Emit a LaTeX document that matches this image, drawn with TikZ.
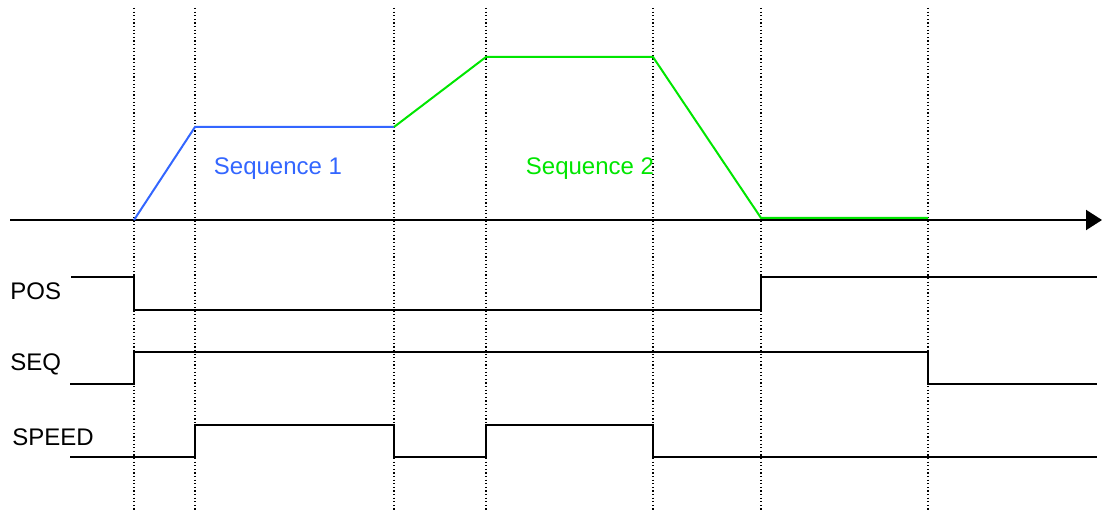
\documentclass[tikz,border=0pt]{standalone}
\usepackage{fontspec}
\setmainfont{Liberation Sans}
\usetikzlibrary{arrows.meta,positioning}
\definecolor{seqblue}{RGB}{51,102,255}
\definecolor{seqgreen}{RGB}{0,230,0}

\begin{document}
\begin{tikzpicture}[
    x=0.5pt, y=-0.5pt,
    tick/.style={line width=0.6pt,dash pattern=on 0.6pt off 1.2pt},
    signal/.style={black,line width=1pt},
    profile/.style={line width=1pt},
    axis/.style={-{Triangle[length=8pt,width=10pt]},line width=1pt},
    sigLabel/.style={anchor=west,inner sep=0pt,font=\fontsize{12}{14}\selectfont},
    seqLabel/.style={inner sep=0pt,font=\fontsize{12}{14}\selectfont},
]
\useasboundingbox (0,0) rectangle (1103,513);

%----------------------------------
% Time marks
%----------------------------------

\foreach \x in {134,195,394,486,653,761,928}
  \draw[tick] (\x,8) -- (\x,510);

%----------------------------------
% Speed profile
%----------------------------------

\coordinate (axStart) at (10,220);
\coordinate (axEnd) at (1102,220);
\draw[axis] (axStart) -- (axEnd);

\draw[profile,seqblue] (134,220) -- (195,127) -- (394,127);
\draw[profile,seqgreen] (394,127) -- (486,57) -- (653,57) -- (761,218) -- (928,218);

\node[seqLabel,text=seqblue] (seqOne) at (278,169) {Sequence 1};
\node[seqLabel,text=seqgreen] (seqTwo) at (590,169) {Sequence 2};

%----------------------------------
% Signals
%----------------------------------

\node[sigLabel] (posLabel) at (10,291) {POS};
\node[sigLabel] (seqLabel) at (10,364) {SEQ};
\node[sigLabel] (speedLabel) at (12,437) {SPEED};

\draw[signal] (71,277) -- (134,277) -- (134,310) -- (761,310) -- (761,277) -- (1097,277);
\draw[signal] (70,384) -- (134,384) -- (134,352) -- (928,352) -- (928,384) -- (1097,384);
\draw[signal] (70,457) -- (195,457) -- (195,425) -- (394,425) -- (394,457)
  -- (486,457) -- (486,425) -- (653,425) -- (653,457) -- (1097,457);

\end{tikzpicture}
\end{document}
